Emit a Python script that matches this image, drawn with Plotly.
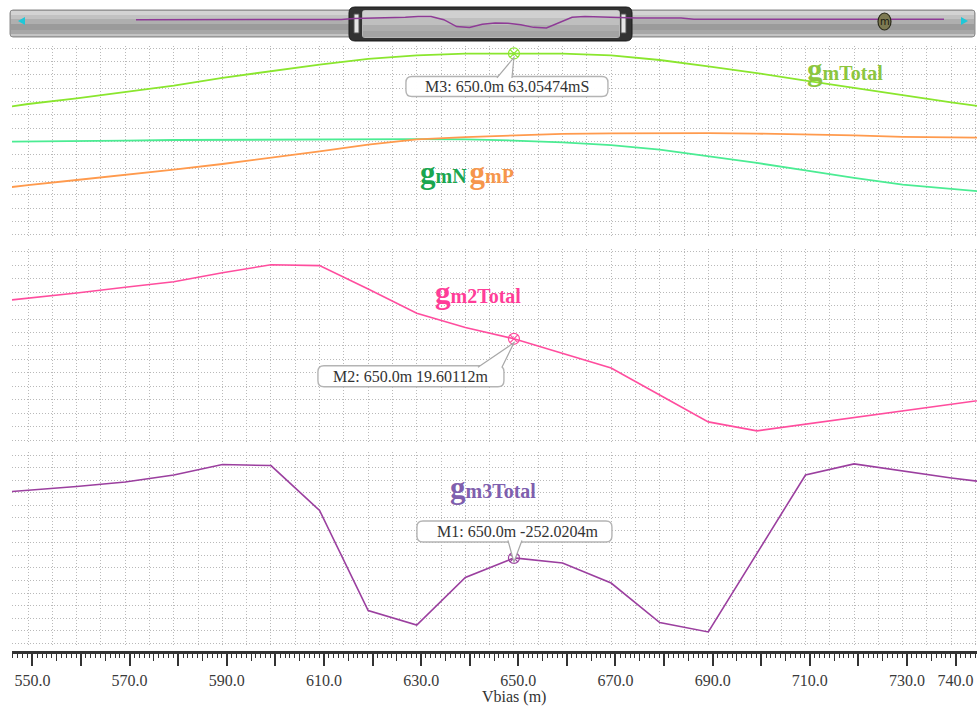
import plotly.graph_objects as go

W, H = 977, 706

# ---- sweep data (Vbias in mV) ----
vbias = [540, 550, 560, 570, 580, 590, 600, 610, 620, 630, 640,
         650, 660, 670, 680, 690, 700, 710, 720, 730, 740, 750]

gm_total = [41.5, 44.1, 46.2, 48.6, 51.0, 53.9, 56.5, 58.9, 61.0, 62.3, 63.0,
            63.05474, 63.0, 62.3, 60.6, 58.2, 55.7, 52.9, 50.1, 47.3, 44.7, 42.2]
gm_n = [29.9, 30.0, 30.2, 30.4, 30.6, 30.7, 30.8, 30.9, 30.9, 30.9, 30.8,
        30.4, 29.7, 28.7, 27.0, 24.6, 22.0, 19.2, 16.4, 13.9, 12.2, 10.7]
gm_p = [11.5, 13.7, 15.6, 17.5, 19.5, 21.6, 23.9, 26.3, 28.9, 30.8, 31.7,
        32.3, 32.9, 33.1, 33.2, 33.2, 33.0, 32.7, 32.3, 31.8, 31.5, 31.4]
gm2_total = [27.5, 28.6, 29.8, 31.1, 32.3, 34.3, 36.1, 35.9, 30.7, 25.3, 22.1,
             19.60112, 16.4, 13.1, 7.1, 1.1, -0.9, 0.6, 2.1, 3.5, 5.0, 6.5]
gm3_total = [-201.1, -198.3, -195.1, -191.5, -185.9, -177.6, -178.4, -214.2, -293.9, -305.5, -267.6,
             -252.0204, -256.1, -272.0, -303.5, -311.0, -248.0, -185.9, -177.1, -182.7, -188.3, -193.1]

# wider sweep shown in the overview strip
ov_left_v = [370, 530]
ov_left_gm3 = [-215.0, -212.0]
ov_right_v = [760, 795, 805, 1000]
ov_right_gm3 = [-194.0, -193.0, -209.0, -209.0]

# markers
marker_v = 650.0
marker_names = ["M3", "M2", "M1"]
marker_vals = [63.05474, 19.60112, -252.0204]
marker_units = ["mS", "m", "m"]
marker_fmt = ["%.5f", "%.5f", "%.4f"]

# bottom ruler labels
tick_vals = [550, 560, 570, 580, 590, 600, 610, 620, 630, 640, 650,
             660, 670, 680, 690, 700, 710, 720, 730, 740]
tick_text = ["550.0", "", "570.0", "", "590.0", "", "610.0", "", "630.0", "", "650.0",
             "", "670.0", "", "690.0", "", "710.0", "", "730.0", "740.0"]

SERIF = "Liberation Serif"


def fx(p):
    return p / W


def fy(p):
    return 1 - p / H


def rr_path(x0, y0, x1, y1, r, cx, cy):
    pts = [
        ("M", (x0 + r, y0)), ("L", (x1 - r, y0)), ("Q", (x1, y0), (x1, y0 + r)),
        ("L", (x1, y1 - r)), ("Q", (x1, y1), (x1 - r, y1)), ("L", (x0 + r, y1)),
        ("Q", (x0, y1), (x0, y1 - r)), ("L", (x0, y0 + r)), ("Q", (x0, y0), (x0 + r, y0)),
    ]
    out = []
    for seg in pts:
        cmd = seg[0]
        coords = " ".join("%.5f,%.5f" % (cx(p[0]), cy(p[1])) for p in seg[1:])
        out.append(cmd + " " + coords)
    return " ".join(out) + " Z"


XR = [546.7, 745.3]
RULER_SHIFT = 0.9
grid = dict(showgrid=True, gridcolor="#b9b9b9", griddash="1px,2px", gridwidth=1)

fig = go.Figure()

# panel 1: gm, gmN, gmP
fig.add_trace(go.Scatter(x=vbias, y=gm_total, mode="lines", line=dict(color="#8ae62e", width=1.8),
                         xaxis="x", yaxis="y", name="gmTotal"))
fig.add_trace(go.Scatter(x=vbias, y=gm_n, mode="lines", line=dict(color="#4bec93", width=1.8),
                         xaxis="x", yaxis="y", name="gmN"))
fig.add_trace(go.Scatter(x=vbias, y=gm_p, mode="lines", line=dict(color="#ff9a4d", width=1.8),
                         xaxis="x", yaxis="y", name="gmP"))
# panel 2
fig.add_trace(go.Scatter(x=vbias, y=gm2_total, mode="lines", line=dict(color="#ff4d9e", width=1.6),
                         xaxis="x2", yaxis="y2", name="gm2Total"))
# panel 3
fig.add_trace(go.Scatter(x=vbias, y=gm3_total, mode="lines", line=dict(color="#9b3f9f", width=1.6),
                         xaxis="x3", yaxis="y3", name="gm3Total"))

# marker symbols
marker_colors = ["#8ae62e", "#ff4d9e", "#9b3f9f"]
marker_axes = [("x", "y"), ("x2", "y2"), ("x3", "y3")]
for val, col, (xa, ya) in zip(marker_vals, marker_colors, marker_axes):
    fig.add_trace(go.Scatter(x=[marker_v], y=[val], mode="markers", xaxis=xa, yaxis=ya,
                             marker=dict(symbol="circle-x-open", size=11, color=col,
                                         line=dict(width=1.2, color=col)),
                             hoverinfo="skip"))

# ruler axes carriers
for xa in ("x4", "x5"):
    fig.add_trace(go.Scatter(x=vbias[:1], y=gm3_total[:1], mode="markers", xaxis=xa, yaxis="y3",
                             marker=dict(opacity=0), hoverinfo="skip"))

# overview strip
ov_v = ov_left_v + vbias + ov_right_v
ov_g = ov_left_gm3 + gm3_total + ov_right_gm3
fig.add_trace(go.Scatter(x=ov_v, y=ov_g, mode="lines", line=dict(color="#8e3a96", width=1.5),
                         xaxis="x6", yaxis="y6", hoverinfo="skip"))

shapes = []

# scroll track
shapes.append(dict(type="path", xref="paper", yref="paper", layer="below",
                   path=rr_path(10, 10, 975, 37, 3, fx, fy),
                   fillcolor="#a4a4a4", line=dict(color="#8c8c8c", width=1)))
for (a, b, c) in [(11, 15, "#d3d3d3"), (15, 19, "#c2c2c2"), (19, 24, "#afafaf"),
                  (24, 30, "#9b9b9b"), (30, 34, "#a7a7a7"), (34, 36, "#c4c4c4")]:
    shapes.append(dict(type="rect", xref="paper", yref="paper", layer="below",
                       x0=fx(11), x1=fx(974), y0=fy(b), y1=fy(a), fillcolor=c, line=dict(width=0)))

# thumb
shapes.append(dict(type="path", xref="paper", yref="paper", layer="below",
                   path=rr_path(349, 7, 632, 41, 6, fx, fy),
                   fillcolor="#333333", line=dict(color="#1a1a1a", width=1)))
shapes.append(dict(type="path", xref="paper", yref="paper", layer="below",
                   path=rr_path(362, 10, 620, 38, 3, fx, fy),
                   fillcolor="#b6b6b6", line=dict(width=0)))
for (a, b, c) in [(11, 18, "#d0d0d0"), (18, 25, "#bfbfbf"), (25, 31, "#adadad"), (31, 37, "#a3a3a3")]:
    shapes.append(dict(type="rect", xref="paper", yref="paper", layer="below",
                       x0=fx(363), x1=fx(619), y0=fy(b), y1=fy(a), fillcolor=c, line=dict(width=0)))
for hx in (354, 621):
    shapes.append(dict(type="rect", xref="paper", yref="paper", layer="below",
                       x0=fx(hx), x1=fx(hx + 5), y0=fy(33), y1=fy(14),
                       fillcolor="#e6e6e6", line=dict(color="#555555", width=1)))

# scroll arrows
shapes.append(dict(type="path", xref="paper", yref="paper", layer="below",
                   path="M %f,%f L %f,%f L %f,%f Z" % (fx(18), fy(21), fx(25), fy(17), fx(25), fy(25)),
                   fillcolor="#1ec8d8", line=dict(width=0)))
shapes.append(dict(type="path", xref="paper", yref="paper", layer="below",
                   path="M %f,%f L %f,%f L %f,%f Z" % (fx(968), fy(21), fx(961), fy(17), fx(961), fy(25)),
                   fillcolor="#1ec8d8", line=dict(width=0)))

# small marker icon on the strip
shapes.append(dict(type="circle", xref="paper", yref="paper", layer="above",
                   x0=fx(878), x1=fx(891), y0=fy(30), y1=fy(13),
                   fillcolor="#7d7a52", line=dict(color="#2a2a1a", width=1.2)))

# marker callouts, sized in pixels around each marker point
callouts = [
    # box (dx0, dy0, dx1, dy1) in screen pixels, tail base x pair, text dx
    dict(box=(-108, 23, 94, 43), tail=(-17, -2), side=1, tdx=-7),
    dict(box=(-196, 27, -10, 48), tail=(-36, -12), side=1, tdx=-103),
    dict(box=(-97, -37, 98, -16), tail=(-6, 8), side=-1, tdx=4),
]
annotations = []
for name, val, unit, fmt, co, (xa, ya) in zip(marker_names, marker_vals, marker_units, marker_fmt,
                                               callouts, marker_axes):
    bx0, by0, bx1, by1 = co["box"]
    shapes.append(dict(type="path", xref=xa, yref=ya, xsizemode="pixel", ysizemode="pixel",
                       xanchor=marker_v, yanchor=val, layer="above",
                       path=rr_path(bx0, by0, bx1, by1, 6, lambda v: v, lambda v: -v),
                       fillcolor="rgba(255,255,255,0.97)", line=dict(color="#b4b4b4", width=1.4)))
    t0, t1 = co["tail"]
    base_y = by0 + 1.5 if co["side"] == 1 else by1 - 1.5
    shapes.append(dict(type="path", xref=xa, yref=ya, xsizemode="pixel", ysizemode="pixel",
                       xanchor=marker_v, yanchor=val, layer="above",
                       path="M %f,%f L 0,-4 L %f,%f" % (t0, -base_y, t1, -base_y),
                       fillcolor="white", line=dict(color="#a8a8a8", width=1.2)))
    label = "%s: %.1fm %s%s" % (name, marker_v, fmt % val, unit)
    annotations.append(dict(x=marker_v, y=val, xref=xa, yref=ya, text=label, showarrow=False,
                            xanchor="center", yanchor="middle",
                            xshift=co["tdx"], yshift=-(by0 + by1) / 2,
                            font=dict(family=SERIF, size=16, color="#333333")))


# curve labels
def lbl(text, x, y):
    annotations.append(dict(x=fx(x), y=fy(y), xref="paper", yref="paper", text=text,
                            showarrow=False, xanchor="center", yanchor="middle",
                            font=dict(family=SERIF)))


def gm_label(parts):
    out = []
    for sub, col in parts:
        out.append("<span style='font-size:31px;color:%s'>g</span>"
                   "<span style='font-size:20px;color:%s'>%s</span>" % (col, col, sub))
    return "<b>" + " ".join(out) + "</b>"


lbl(gm_label([("mTotal", "#8cc63f")]), 845, 69)
lbl(gm_label([("mN", "#1aa64f"), ("mP", "#f6964c")]), 467, 173)
lbl(gm_label([("m2Total", "#ff3d98")]), 478, 292)
lbl(gm_label([("m3Total", "#7f5fae")]), 493, 487)

annotations.append(dict(x=fx(514), y=fy(697), xref="paper", yref="paper", text="Vbias (m)",
                        showarrow=False, xanchor="center", yanchor="middle",
                        font=dict(family=SERIF, size=16, color="#333333")))
annotations.append(dict(x=fx(884.5), y=fy(21), xref="paper", yref="paper", text="m",
                        showarrow=False, xanchor="center", yanchor="middle",
                        font=dict(family="DejaVu Sans", size=10, color="#1a1a10")))

panel_x = dict(range=XR, domain=[fx(12), 1.0], dtick=5, tick0=550, showticklabels=False,
               ticks="", zeroline=False, showline=False, **grid)


def panel_y(top_px, bot_px, rng, dt):
    return dict(domain=[fy(bot_px), fy(top_px)], range=rng, dtick=dt, tick0=0,
                showticklabels=False, ticks="", zeroline=False, showline=False, **grid)


ruler_range = [XR[0] - RULER_SHIFT, XR[1] - RULER_SHIFT]

fig.update_layout(
    width=W, height=H,
    margin=dict(l=0, r=0, t=0, b=0),
    paper_bgcolor="white", plot_bgcolor="rgba(0,0,0,0)",
    showlegend=False,
    xaxis=dict(anchor="y", **panel_x),
    xaxis2=dict(anchor="y2", matches="x", **panel_x),
    xaxis3=dict(anchor="y3", matches="x", **panel_x),
    yaxis=dict(anchor="x", **panel_y(46, 238, [-6.15, 65.85], 5)),
    yaxis2=dict(anchor="x2", **panel_y(249, 442, [-3.38, 39.6], 3)),
    yaxis3=dict(anchor="x3", **panel_y(452, 646, [-322.2, -167.6], 10)),
    xaxis4=dict(overlaying="x3", anchor="free", position=fy(652), side="bottom",
                range=ruler_range, tickmode="array", tickvals=tick_vals, ticktext=tick_text,
                ticks="outside", ticklen=12, tickwidth=1.6, tickcolor="#333333",
                showline=True, linewidth=2.5, linecolor="#333333", showgrid=False, zeroline=False,
                ticklabelstandoff=1,
                tickfont=dict(family=SERIF, size=16, color="#3a3a3a"),
                minor=dict(ticks="outside", ticklen=4, dtick=1, tick0=550, tickwidth=1,
                           tickcolor="#333333", showgrid=False)),
    xaxis5=dict(overlaying="x3", anchor="free", position=fy(652), side="bottom",
                range=ruler_range, dtick=5, tick0=550, ticks="outside", ticklen=8,
                tickwidth=1.3, tickcolor="#333333", showticklabels=False, showline=False,
                showgrid=False, zeroline=False),
    xaxis6=dict(domain=[fx(136), fx(944)], range=[370, 1000], anchor="y6", visible=False),
    yaxis6=dict(domain=[fy(36), fy(12)], range=[-404, -124.6], anchor="x6", visible=False),
    shapes=shapes,
    annotations=annotations,
    hovermode=False,
)

fig.write_html("out.html")
